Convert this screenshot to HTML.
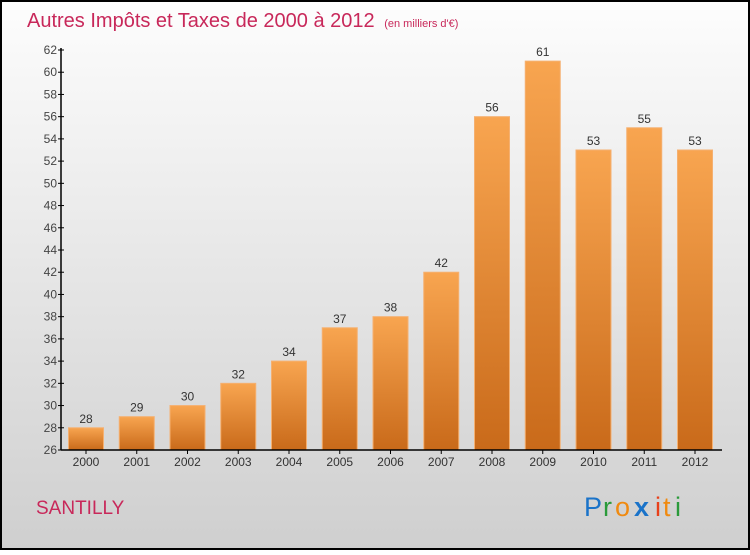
<!DOCTYPE html>
<html><head><meta charset="utf-8"><style>
body{margin:0;width:750px;height:550px;overflow:hidden;font-family:"Liberation Sans",sans-serif}
</style></head><body>
<svg id="c" width="750" height="550" xmlns="http://www.w3.org/2000/svg">
<defs>
<linearGradient id="bg" x1="0" y1="0" x2="0" y2="1"><stop offset="0" stop-color="#fdfdfd"/><stop offset="1" stop-color="#cfcfcf"/></linearGradient>
<linearGradient id="bar" x1="0" y1="0" x2="0" y2="1"><stop offset="0" stop-color="#f8a550"/><stop offset="1" stop-color="#c96a1a"/></linearGradient>
</defs>
<rect x="1" y="1" width="748" height="548" fill="url(#bg)" stroke="#000" stroke-width="2"/>
<text x="27" y="27" font-size="20" fill="#c8285a">Autres Impôts et Taxes de 2000 à 2012 <tspan font-size="11" dx="4">(en milliers d'€)</tspan></text>
<text x="36" y="514" font-size="19" fill="#c8285a">SANTILLY</text>
<g font-size="27">
<text x="584" y="516" fill="#1a73c9">P</text><text x="603" y="516" fill="#2a9a3a">r</text><text x="615" y="516" fill="#f08a10">o</text><text x="634" y="516" fill="#1a73c9" font-weight="bold">x</text><text x="655" y="516" fill="#e8401a">i</text><text x="663" y="516" fill="#f08a10">t</text><text x="675" y="516" fill="#2a9a3a">i</text>
</g>
<g id="plot"></g>
</svg>
<script>
const years=["2000","2001","2002","2003","2004","2005","2006","2007","2008","2009","2010","2011","2012"];
const values=[28,29,30,32,34,37,38,42,56,61,53,55,53];
const yTicks=[26,28,30,32,34,36,38,40,42,44,46,48,50,52,54,56,58,60,62];
const NS="http://www.w3.org/2000/svg";
const g=document.getElementById('plot');
const y0=450,y1=50,vmin=26,vmax=62,x0=61;
const y=v=>y0-(v-vmin)/(vmax-vmin)*(y0-y1);
const xc=i=>86+i*50.75;
function el(t,a,txt){const e=document.createElementNS(NS,t);for(const k in a)e.setAttribute(k,a[k]);if(txt!=null)e.textContent=txt;g.appendChild(e);return e;}
yTicks.forEach(v=>{
 const t=el('line',{x1:x0-3,x2:x0+3,y1:y(v),y2:y(v),stroke:'#000'});
 
 
 const l=el('text',{x:x0-4,y:y(v)+4,'font-size':12,'text-anchor':'end',fill:'#444'},v);
 
 
});
values.forEach((v,i)=>{
 const b=el('rect',{x:xc(i)-17.5,y:y(v),width:35,height:y0-y(v),fill:'url(#bar)',stroke:'#f5b070','stroke-width':1});
 
 
 const l=el('text',{x:xc(i),y:y(v)-5,'font-size':12,'text-anchor':'middle',fill:'#333'},v);
 
 
 const tk=el('line',{x1:xc(i),x2:xc(i),y1:y0,y2:y0+4,stroke:'#000'});
 
 
 const xl=el('text',{x:xc(i),y:y0+16,'font-size':12,'text-anchor':'middle',fill:'#333'},years[i]);
 
 
});
const ya=el('line',{x1:x0,x2:x0,y1:y1-2,y2:y0,stroke:'#000','stroke-width':1.5});


const xa=el('line',{x1:x0,x2:722,y1:y0,y2:y0,stroke:'#000','stroke-width':1.5});


</script>
</body></html>
